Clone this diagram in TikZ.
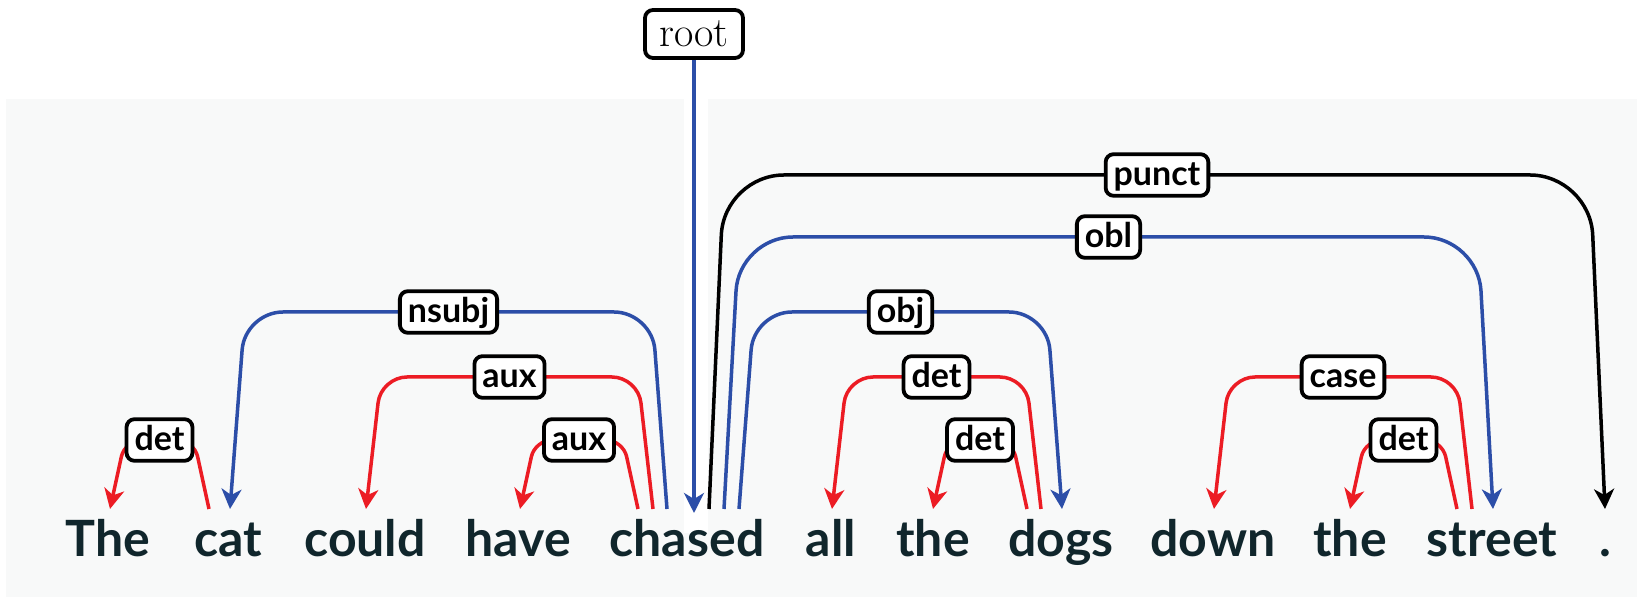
\documentclass[tikz,border=0pt]{standalone}
\usepackage{fontspec}
\newfontfamily\latofont{Lato}
\usetikzlibrary{arrows.meta}
\definecolor{bgcol}{RGB}{248,249,249}
\definecolor{depred}{RGB}{236,28,36}
\definecolor{depblue}{RGB}{44,78,168}
\definecolor{wordcol}{RGB}{16,38,44}
\begin{document}
\begin{tikzpicture}[x=0.5pt,y=-0.5pt,
  word/.style={anchor=base, font=\latofont\bfseries\fontsize{25}{30}\selectfont, text=wordcol, inner sep=0pt},
  lbl/.style={draw=black, line width=1.9pt, fill=white, text=black, rounded corners=4pt,
    font=\latofont\bfseries\fontsize{17}{20}\selectfont, text height=13.4pt, text depth=3pt,
    inner xsep=4pt, inner ysep=2.2pt},
  rootbox/.style={draw=black, line width=1.9pt, fill=white, text=black, rounded corners=4pt,
    font=\fontsize{21}{25}\selectfont, minimum width=49pt, minimum height=24pt, inner sep=0pt},
  arc/.style={line width=1.75pt, -{Stealth[length=10pt,width=10pt,inset=3pt]}},
  lvA/.style={rounded corners=8.5pt},
  lvB/.style={rounded corners=13pt},
  lvC/.style={rounded corners=19pt},
  lvD/.style={rounded corners=27pt},
  lvE/.style={rounded corners=30pt}]
\useasboundingbox (0,0) rectangle (1637,597);
\fill[bgcol] (6,99) rectangle (1637,597);
\fill[white] (684,99) rectangle (708,533);

% words
\node[word] (w1) at (108,557) {The};
\node[word] (w2) at (228,557) {cat};
\node[word] (w3) at (365,557) {could};
\node[word] (w4) at (518,557) {have};
\node[word] (w5) at (687,557) {chased};
\node[word] (w6) at (831,557) {all};
\node[word] (w7) at (933,557) {the};
\node[word] (w8) at (1061,557) {dogs};
\node[word] (w9) at (1213,557) {down};
\node[word] (w10) at (1350,557) {the};
\node[word] (w11) at (1492,557) {street};
\node[word] (w12) at (1605,557) {.};

% edge end points
\coordinate (theD) at (110,509);
\coordinate (catH) at (209,509);
\coordinate (catD) at (230,509);
\coordinate (couldD) at (366,509);
\coordinate (haveD) at (520,509);
\coordinate (chH1) at (638,509);
\coordinate (chH2) at (653,509);
\coordinate (chH3) at (667,509);
\coordinate (chD) at (694,513);
\coordinate (chH4) at (709,509);
\coordinate (chH5) at (724,509);
\coordinate (chH6) at (739,509);
\coordinate (allD) at (832,509);
\coordinate (theD2) at (933,509);
\coordinate (dogsH1) at (1027,509);
\coordinate (dogsH2) at (1041,509);
\coordinate (dogsD) at (1062,509);
\coordinate (downD) at (1214,509);
\coordinate (theD3) at (1350,509);
\coordinate (strH1) at (1457,509);
\coordinate (strH2) at (1472,509);
\coordinate (strD) at (1493,509);
\coordinate (dotD) at (1605,509);

% root
\node[rootbox] (root) at (694,34) {root};
\draw[arc, depblue] (root.south) -- (chD);

% arcs
\draw[arc, depred, lvA] (catH) -- (194,440) -- node[lbl] (l1) {det} (125,440) -- (theD);
\draw[arc, depblue, lvC] (chH3) -- (652,312) -- node[lbl] (l2) {nsubj} (245,312) -- (catD);
\draw[arc, depred, lvB] (chH2) -- (638,377) -- node[lbl] (l3) {aux} (381,377) -- (couldD);
\draw[arc, depred, lvA] (chH1) -- (623,440) -- node[lbl] (l4) {aux} (535,440) -- (haveD);
\draw[arc, black, lvE] (chH4) -- (724,175) -- node[lbl] (l5) {punct} (1590,175) -- (dotD);
\draw[arc, depblue, lvD] (chH5) -- (739,237) -- node[lbl] (l6) {obl} (1478,237) -- (strD);
\draw[arc, depblue, lvC] (chH6) -- (754,312) -- node[lbl] (l7) {obj} (1047,312) -- (dogsD);
\draw[arc, depred, lvB] (dogsH2) -- (1026,377) -- node[lbl] (l8) {det} (847,377) -- (allD);
\draw[arc, depred, lvA] (dogsH1) -- (1012,440) -- node[lbl] (l9) {det} (948,440) -- (theD2);
\draw[arc, depred, lvB] (strH2) -- (1457,377) -- node[lbl] (l10) {case} (1229,377) -- (downD);
\draw[arc, depred, lvA] (strH1) -- (1442,440) -- node[lbl] (l11) {det} (1365,440) -- (theD3);
\end{tikzpicture}
\end{document}
